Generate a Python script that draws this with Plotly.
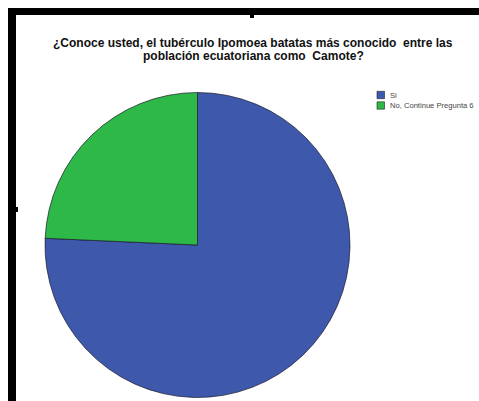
import plotly.graph_objects as go

W, H = 479, 401

# Survey answers and their share of respondents (%)
labels = ["Si", "No, Continue Pregunta 6"]
shares = [75.7, 24.3]
colors = ["#3E58AC", "#2EB848"]

title_lines = [
    "¿Conoce usted, el tubérculo Ipomoea batatas más conocido\u00a0 entre las",
    "población ecuatoriana como\u00a0 Camote?",
]


def px_x(x):
    return x / W


def px_y(y):
    return 1 - y / H


fig = go.Figure(
    go.Pie(
        labels=labels,
        values=shares,
        marker=dict(colors=colors, line=dict(color="#1a1a2a", width=0.7)),
        sort=False,
        direction="clockwise",
        rotation=0,
        textinfo="none",
        hoverinfo="label+percent",
        showlegend=False,
        domain=dict(x=[px_x(45), px_x(350)], y=[px_y(397.5), px_y(92.5)]),
    )
)

shapes = [
    # frame edges
    dict(type="rect", xref="paper", yref="paper", x0=px_x(8), x1=1.01,
         y0=px_y(15), y1=px_y(8), fillcolor="black", line_width=0, layer="above"),
    dict(type="rect", xref="paper", yref="paper", x0=px_x(8), x1=px_x(16),
         y0=-0.01, y1=px_y(8), fillcolor="black", line_width=0, layer="above"),
    # small tick marks on the frame
    dict(type="rect", xref="paper", yref="paper", x0=px_x(250), x1=px_x(254),
         y0=px_y(18), y1=px_y(15), fillcolor="black", line_width=0),
    dict(type="rect", xref="paper", yref="paper", x0=px_x(16), x1=px_x(18),
         y0=px_y(212), y1=px_y(207), fillcolor="black", line_width=0),
]

annotations = []
for i, line in enumerate(title_lines):
    annotations.append(dict(
        text="<b>%s</b>" % line, xref="paper", yref="paper",
        x=px_x(253), y=px_y(42.5 + 14 * i), xanchor="center", yanchor="middle",
        showarrow=False,
        font=dict(family="Liberation Sans, Arial, sans-serif", size=12, color="#111"),
    ))

# legend drawn as swatches + labels
for i, (lab, col) in enumerate(zip(labels, colors)):
    yc = 95 + 10.5 * i
    shapes.append(dict(type="rect", xref="paper", yref="paper",
                       x0=px_x(377), x1=px_x(384.5), y0=px_y(yc + 3.7), y1=px_y(yc - 3.7),
                       fillcolor=col, line=dict(color="#222", width=0.6)))
    annotations.append(dict(
        text=lab, xref="paper", yref="paper", x=px_x(387.5), y=px_y(yc),
        xanchor="left", yanchor="middle", showarrow=False,
        font=dict(family="Liberation Sans, Arial, sans-serif", size=7.6, color="#444"),
    ))

fig.update_layout(
    width=W, height=H,
    margin=dict(l=0, r=0, t=0, b=0),
    paper_bgcolor="white",
    plot_bgcolor="white",
    shapes=shapes,
    annotations=annotations,
)

fig.write_html("out.html")
